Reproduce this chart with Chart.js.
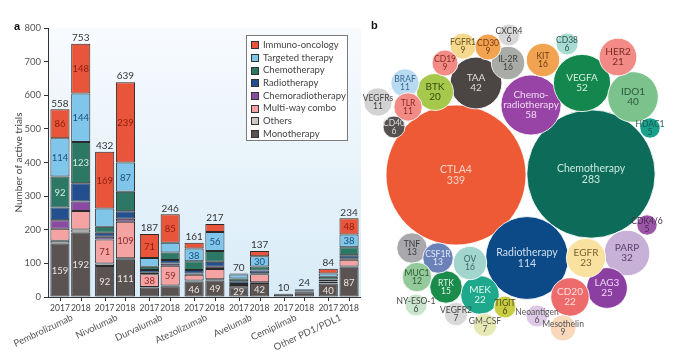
<!DOCTYPE html>
<html><head><meta charset="utf-8">
<script src="https://cdn.jsdelivr.net/npm/chart.js@4"></script>
<style>
html,body{margin:0;padding:0;background:#fff;width:675px;height:357px;overflow:hidden;font-family:Lato,'Open Sans',sans-serif;}
#wrapA{position:absolute;left:0;top:0;width:370px;height:357px;}
#wrapB{position:absolute;left:360px;top:0;width:315px;height:357px;}
.panel{position:absolute;font-weight:bold;font-size:11px;color:#111;font-family:'Liberation Sans',Arial,sans-serif;}
#legend{position:absolute;left:246px;top:35px;width:102px;height:106px;border:1px solid #7a7a7a;background:#fff;box-sizing:border-box;padding:3px 0 0 4px;}
.li{height:12.7px;line-height:12.7px;font-size:9.5px;color:#444;white-space:nowrap;display:flex;align-items:center;}
.sw{width:6px;height:6px;border:1px solid #333;margin-right:4px;flex:none}
</style></head>
<body>
<div id="wrapA"><canvas id="cA" width="370" height="357"></canvas></div>
<div id="wrapB"><canvas id="cB" width="315" height="357"></canvas></div>
<div class="panel" style="left:14px;top:20px">a</div>
<div class="panel" style="left:371px;top:19px">b</div>
<div id="legend"></div>
<script>
// ---------- Panel a data ----------
const drugs = ['Pembrolizumab','Nivolumab','Durvalumab','Atezolizumab','Avelumab','Cemiplimab','Other PD1/PDL1'];
const years = ['2017','2018'];
const yTicks = [0,100,200,300,400,500,600,700,800];

const mono2017     = [159, 92, 28, 46, 29,  8, 40];
const mono2018     = [192,111, 32, 49, 42, 14, 87];
const others2017   = [  8,  8,  2,  3,  0,  0,  1];
const others2018   = [  9,  4,  2,  4,  2,  2,  4];
const multi2017    = [ 36, 71, 38, 17,  7,  0,  4];
const multi2018    = [ 55,109, 59, 30, 24,  2, 20];
const chemorad2017 = [ 25,  8,  4,  4,  3,  0,  2];
const chemorad2018 = [ 28,  9,  7,  7,  3,  0,  4];
const radio2017    = [ 38, 12,  8, 10,  8,  0,  5];
const radio2018    = [ 54, 22, 10, 15,  8,  2,  9];
const chemo2017    = [ 92, 18, 10, 26,  8,  2,  8];
const chemo2018    = [123, 58, 22, 32, 12,  2, 24];
const tt2017       = [114, 54, 26, 38, 12,  0, 10];
const tt2018       = [144, 87, 29, 56, 30,  2, 38];
const io2017       = [ 86,169, 71, 17,  3,  0, 14];
const io2018       = [148,239, 85, 24, 16,  0, 48];

// which segments carry a printed value
const monoShow2017  = [1,1,0,1,1,0,1];
const monoShow2018  = [1,1,0,1,1,0,1];
const multiShow2017 = [0,1,1,0,0,0,0];
const multiShow2018 = [0,1,1,0,0,0,0];
const chemoShow2017 = [1,0,0,0,0,0,0];
const chemoShow2018 = [1,0,0,0,0,0,0];
const ttShow2017    = [1,0,0,1,0,0,0];
const ttShow2018    = [1,1,0,1,1,0,1];
const ioShow2017    = [1,1,1,0,0,0,0];
const ioShow2018    = [1,1,1,0,0,0,1];
const noShow        = [0,0,0,0,0,0,0];

// series (bottom to top)
const seriesNames = ['Monotherapy','Others','Multi-way combo','Chemoradiotherapy','Radiotherapy','Chemotherapy','Targeted therapy','Immuno-oncology'];
const seriesData17 = [mono2017, others2017, multi2017, chemorad2017, radio2017, chemo2017, tt2017, io2017];
const seriesData18 = [mono2018, others2018, multi2018, chemorad2018, radio2018, chemo2018, tt2018, io2018];
const seriesShow17 = [monoShow2017, noShow, multiShow2017, noShow, noShow, chemoShow2017, ttShow2017, ioShow2017];
const seriesShow18 = [monoShow2018, noShow, multiShow2018, noShow, noShow, chemoShow2018, ttShow2018, ioShow2018];
const seriesColors = ['#5b5351','#cfc7bf','#f4a3a2','#8b4aa1','#244f8e','#2d7864','#7fc6ea','#e9553a'];
const seriesText   = ['#ebe6e3','#444','#8a2a26','#fff','#fff','#d4ebe1','#1d4d78','#8a1f0e'];

const datasetsA = [];
years.forEach((yr, yi) => {
  seriesNames.forEach((nm, si) => {
    datasetsA.push({
      label: nm, stack: yr,
      data: (yi === 0 ? seriesData17 : seriesData18)[si],
      show: (yi === 0 ? seriesShow17 : seriesShow18)[si],
      txt: seriesText[si],
      backgroundColor: seriesColors[si],
      borderColor: '#2a2a2a', borderWidth: 1, borderSkipped: false,
      barPercentage: 0.92, categoryPercentage: 0.93
    });
  });
});

// legend (top to bottom = reverse stack order)
const lg = document.getElementById('legend');
for (let i = seriesNames.length - 1; i >= 0; i--) {
  const d = document.createElement('div'); d.className = 'li';
  d.innerHTML = '<span class="sw" style="background:' + seriesColors[i] + '"></span>' + seriesNames[i];
  lg.appendChild(d);
}

const FONT = "Lato, 'Open Sans', sans-serif";
const panelAPlugin = {
  id: 'panelA',
  beforeDraw(chart) {
    const {ctx, chartArea: a} = chart;
    const g = ctx.createLinearGradient(0, a.top, 0, a.bottom);
    g.addColorStop(0, '#f8fbfe'); g.addColorStop(1, '#d8ebf7');
    ctx.save(); ctx.fillStyle = g; ctx.fillRect(a.left, a.top, a.right - a.left, a.bottom - a.top); ctx.restore();
  },
  afterDatasetsDraw(chart) {
    const {ctx, chartArea: a} = chart;
    ctx.save();
    ctx.textAlign = 'center'; ctx.textBaseline = 'middle';
    ctx.font = '9.5px ' + FONT;
    chart.data.datasets.forEach((ds, di) => {
      const meta = chart.getDatasetMeta(di);
      ds.data.forEach((v, i) => {
        if (!ds.show[i]) return;
        const el = meta.data[i];
        ctx.fillStyle = ds.txt;
        ctx.fillText(String(v), el.x, (el.y + el.base) / 2 + 0.5);
      });
    });
    const nS = seriesNames.length;
    ctx.strokeStyle = '#333'; ctx.lineWidth = 1;
    ctx.beginPath(); ctx.moveTo(a.left, a.bottom + 0.5); ctx.lineTo(a.right, a.bottom + 0.5); ctx.stroke();
    years.forEach((yr, yi) => {
      const topMeta = chart.getDatasetMeta(yi * nS + nS - 1);
      drugs.forEach((d, i) => {
        let tot = 0;
        for (let s = 0; s < nS; s++) tot += chart.data.datasets[yi * nS + s].data[i];
        const el = topMeta.data[i];
        ctx.font = '10px ' + FONT;
        ctx.fillStyle = '#333'; ctx.textBaseline = 'bottom';
        ctx.fillText(String(tot), el.x, el.y - 1);
        ctx.font = '8.5px ' + FONT;
        ctx.textBaseline = 'middle'; ctx.fillStyle = '#444';
        ctx.fillText(yr, el.x, a.bottom + 11);
        ctx.beginPath(); ctx.moveTo(Math.round(el.x) + 0.5, a.bottom); ctx.lineTo(Math.round(el.x) + 0.5, a.bottom + 4); ctx.stroke();
      });
    });
    const xs = chart.scales.x;
    ctx.fillStyle = '#555'; ctx.font = '9.5px ' + FONT;
    ctx.textAlign = 'right'; ctx.textBaseline = 'middle';
    drugs.forEach((d, i) => {
      const gx = xs.getPixelForValue(i);
      ctx.save(); ctx.translate(gx + 2, a.bottom + 20); ctx.rotate(-25 * Math.PI / 180);
      ctx.fillText(d, 0, 0); ctx.restore();
    });
    ctx.save(); ctx.translate(19, (a.top + a.bottom) / 2); ctx.rotate(-Math.PI / 2);
    ctx.textAlign = 'center'; ctx.fillStyle = '#444'; ctx.font = '10px ' + FONT;
    ctx.fillText('Number of active trials', 0, 0); ctx.restore();
    ctx.restore();
  }
};

new Chart(document.getElementById('cA'), {
  type: 'bar',
  data: { labels: drugs, datasets: datasetsA },
  options: {
    responsive: false, animation: false, events: [],
    layout: { padding: { left: 0, right: 9, top: 28, bottom: 60 } },
    plugins: { legend: { display: false }, tooltip: { enabled: false } },
    scales: {
      x: { stacked: true, display: false, offset: true },
      y: {
        stacked: true, min: 0, max: 800,
        afterFit: s => { s.width = 48; },
        afterBuildTicks: s => { s.ticks = yTicks.map(v => ({ value: v })); },
        ticks: { color: '#555', font: { size: 9.5, family: FONT }, padding: 3 },
        grid: { display: true, drawOnChartArea: false, drawTicks: true, tickLength: 4, color: '#333' },
        border: { display: true, color: '#333' }
      }
    }
  },
  plugins: [panelAPlugin]
});

// ---------- Panel b data ----------
const targets = ['CTLA4','Chemotherapy','Radiotherapy','Chemo-\nradiotherapy','VEGFA','TAA','IDO1','PARP','LAG3','EGFR','MEK','CD20','HER2','BTK','IL-2R','KIT','OV','RTK','TNF','CSF1R','MUC1','BRAF','TLR','VEGFRs','FGFR1','CD30','CD19','Mesothelin','VEGFR2','GM-CSF','CXCR4','CD38','CD40','NY-ESO-1','TIGIT','Neoantigen','HDAC1','CDK4/6'];
const trialCounts = [339,283,114,58,52,42,40,32,25,23,22,22,21,20,16,16,16,15,13,13,12,11,11,11,9,9,9,9,7,7,6,6,6,6,6,6,5,5];
// packed-layout position of each bubble (layout units)
const bubbleX = [96,231,167,171,222,116,273,267,247,226,120,210,258,75,148,183,110,86,52,78,57,45,48,18,103,128,85,203,96,125,149,207,34,56,145,177,290,287];
const bubbleY = [175,174,258,105,83,83,97,253,288,258,295,297,57,92,63,60,263,287,248,258,277,83,107,102,46,47,63,328,314,325,35,44,127,305,307,316,128,225];

const bubbleFill = ['#ee5a36','#0d6b5a','#0c4a87','#9843a6','#13874d','#4b4544','#7cc28c','#c7b1d7','#8b3fa0','#f9e1a0','#1fa98c','#ee6b6b','#f28b86','#a7c94b','#a8aba6','#f2a352','#a2d6cd','#1b8b4b','#a9a9ad','#6b82b9','#93c99b','#b8dbf1','#f28b86','#d2d2d2','#f6d88c','#f2a352','#f28b86','#f9d8bb','#d9d9d9','#e6e9b4','#d7d7d7','#a9dbd2','#555150','#c9e5cd','#c9cd42','#ddc9e5','#17a08c','#9b56a8'];
const bubbleText = ['#fcd2c4','#cde8df','#d0def0','#f0d8f4','#d8f0e0','#e0dcda','#2c5a3a','#5a3e6e','#ecd8f2','#7a6030','#e0f6ef','#fde0e0','#7a2a26','#3a4a10','#3c3e3a','#6a3a10','#3a6a60','#dff2e6','#3a3a3e','#e0e8f8','#2c5a34','#3b6a96','#8a2a24','#444','#6a5520','#7a3a10','#8a2a24','#555','#444','#555','#444','#2c5a52','#ddd','#444','#4a4a10','#555','#1d5a50','#4a2a50'];

// bubble area scale: radius grows with the square root of the count
const rOf = c => 3.7 * Math.sqrt(c) + 1.9;

// bubble controller without the automatic edge padding (layout is pre-packed)
class PackedBubbleController extends Chart.BubbleController {
  getMaxOverflow() { return 0; }
}
PackedBubbleController.id = 'packedBubble';
PackedBubbleController.defaults = Chart.BubbleController.defaults;
PackedBubbleController.overrides = Chart.BubbleController.overrides;
Chart.register(PackedBubbleController);

const bubbleLabelPlugin = {
  id: 'bubbleLabels',
  afterDatasetsDraw(chart) {
    const {ctx} = chart;
    const meta = chart.getDatasetMeta(0);
    ctx.save(); ctx.textAlign = 'center'; ctx.textBaseline = 'middle';
    meta.data.forEach((el, i) => {
      const r = rOf(trialCounts[i]);
      const fs = r > 35 ? 10.5 : (r > 18 ? 10 : 8.5);
      ctx.font = fs + 'px ' + FONT;
      ctx.fillStyle = bubbleText[i];
      const lines = targets[i].split('\n').concat([String(trialCounts[i])]);
      const lh = fs * 0.98;
      const y0 = el.y - (lines.length - 1) * lh / 2;
      lines.forEach((t, k) => ctx.fillText(t, el.x, y0 + k * lh));
    });
    ctx.restore();
  }
};

new Chart(document.getElementById('cB'), {
  type: 'packedBubble',
  data: {
    datasets: [{
      data: targets.map((t, i) => ({ x: bubbleX[i], y: bubbleY[i], v: trialCounts[i] })),
      radius: ctx => rOf(ctx.raw.v),
      backgroundColor: bubbleFill,
      borderColor: 'rgba(255,255,255,0.85)', borderWidth: 1,
      clip: false
    }]
  },
  options: {
    responsive: false, animation: false, events: [],
    layout: { padding: 0 },
    plugins: { legend: { display: false }, tooltip: { enabled: false } },
    scales: {
      x: { type: 'linear', min: 0, max: 315, display: false },
      y: { type: 'linear', min: 0, max: 357, reverse: true, display: false }
    }
  },
  plugins: [bubbleLabelPlugin]
});
</script>
</body></html>
